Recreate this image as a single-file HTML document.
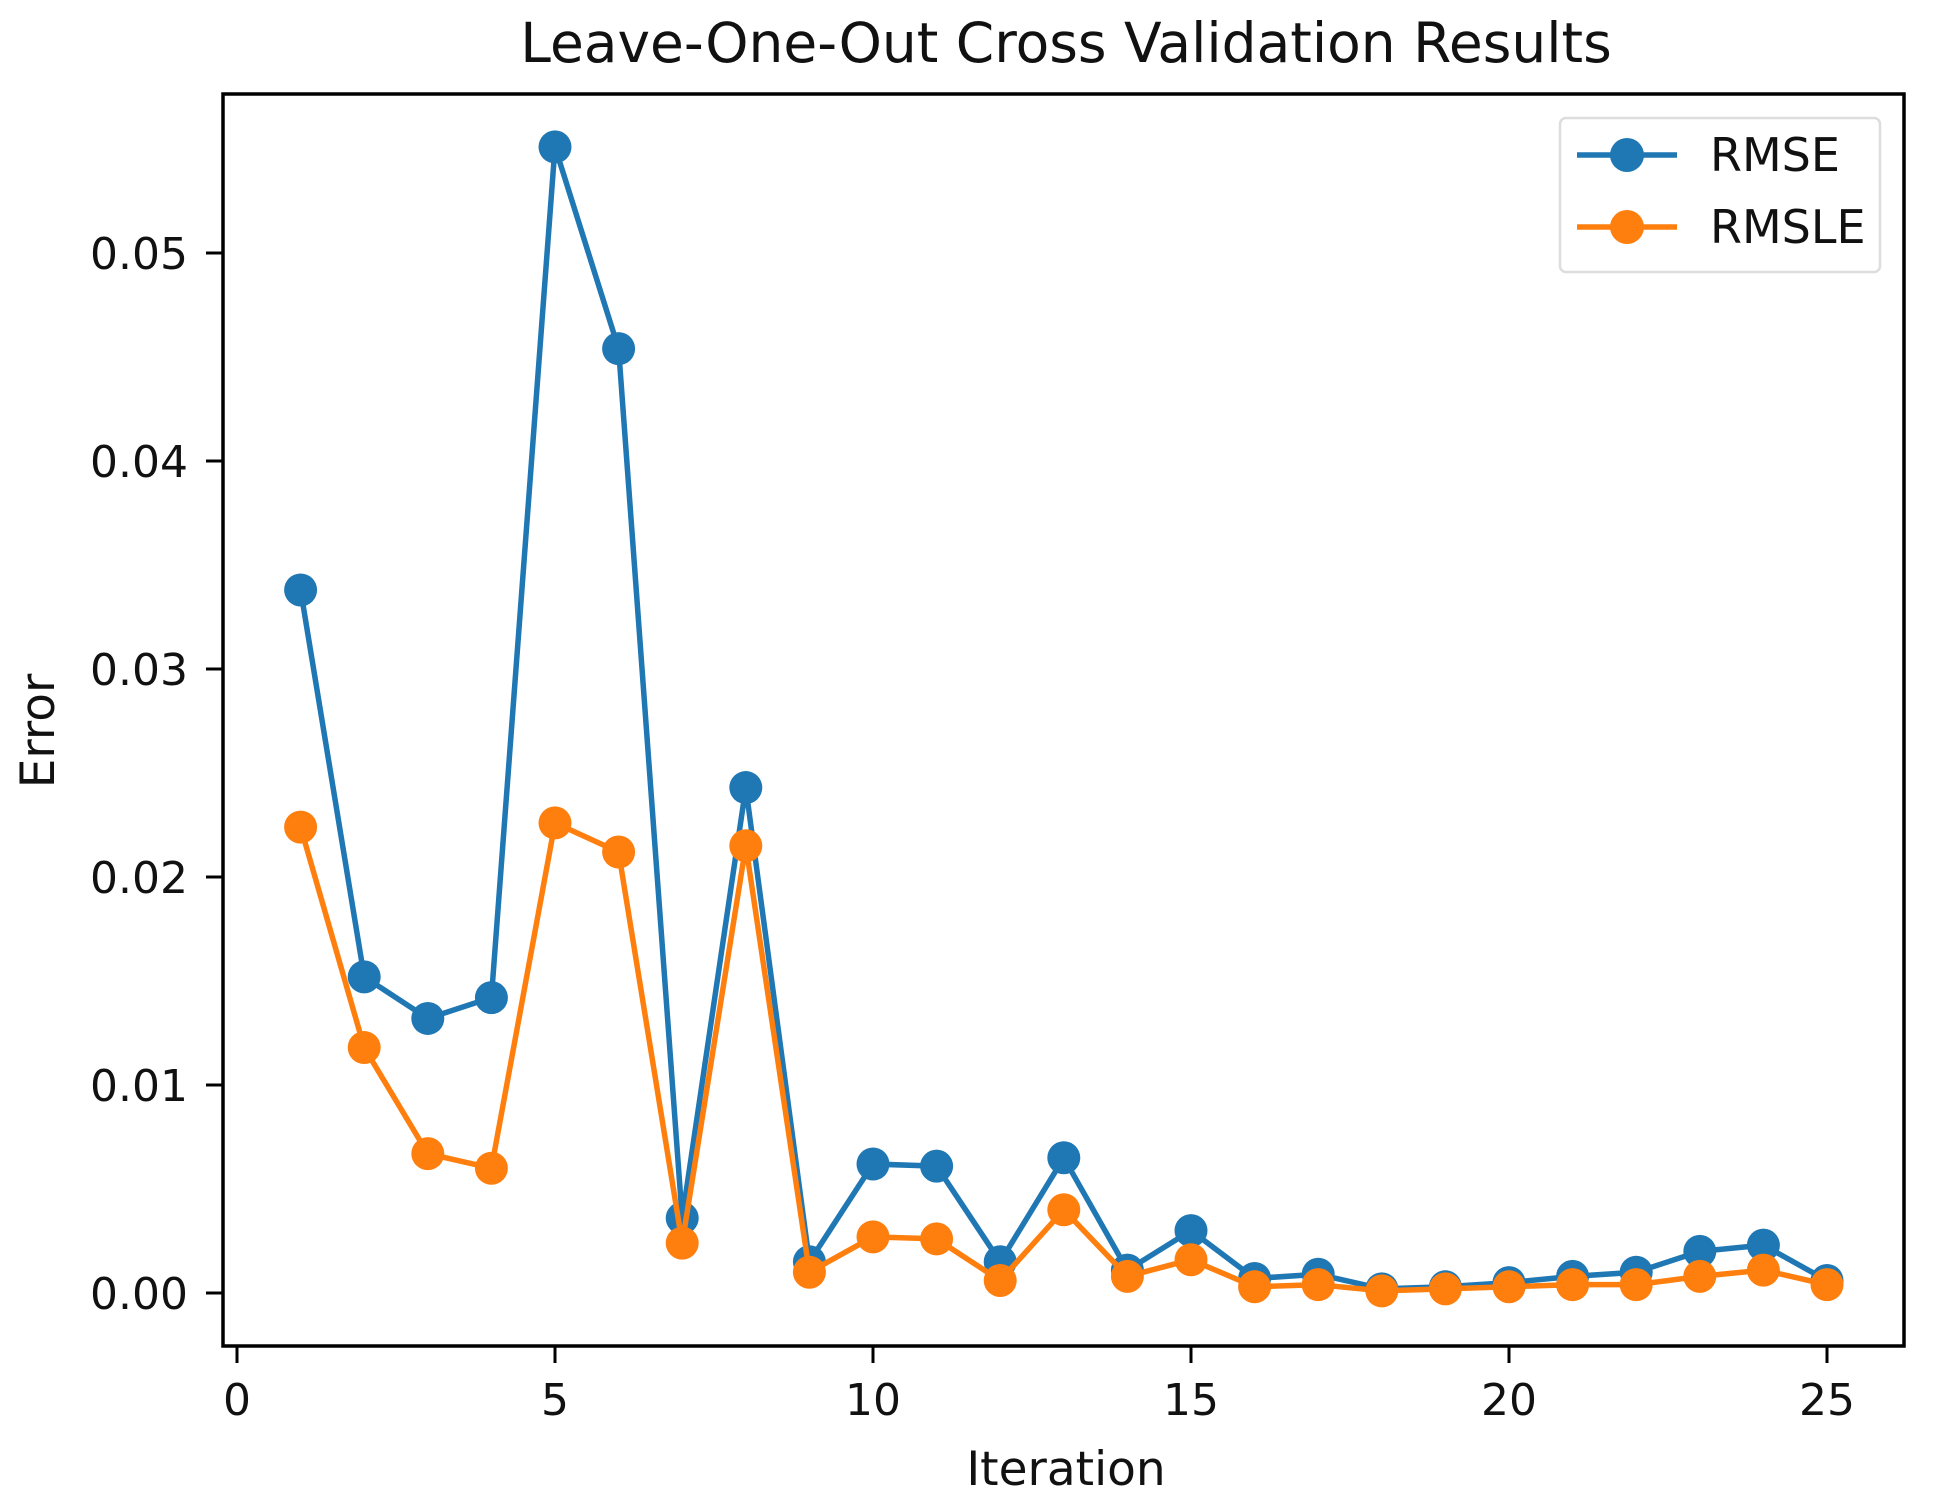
<!DOCTYPE html>
<html><head><meta charset="utf-8"><style>html,body{margin:0;padding:0;background:#fff}svg{display:block}</style></head>
<body>
<svg id="chart" width="1934" height="1501" viewBox="0 0 1934 1501" font-family="'DejaVu Sans','Liberation Sans',sans-serif">
<rect width="1934" height="1501" fill="#fff"/>
<text x="1066" y="62" font-size="55" text-anchor="middle" fill="#111">Leave-One-Out Cross Validation Results</text>
<g id="plot"></g>
<rect x="223" y="94" width="1681" height="1252" fill="none" stroke="#000" stroke-width="3.5"/>
<text x="1066" y="1485" font-size="47" text-anchor="middle" fill="#111">Iteration</text>
<text transform="translate(54,731) rotate(-90)" font-size="47" text-anchor="middle" fill="#111">Error</text>
<g>
<rect x="1560" y="118" width="320" height="154" rx="6" fill="#fff" stroke="#ddd" stroke-width="2.5"/>
<g>
<line x1="1577" y1="155" x2="1677" y2="155" stroke="#1f77b4" stroke-width="5.5"/>
<circle cx="1627" cy="155" r="17" fill="#1f77b4"/>
<text x="1710" y="171" font-size="46" fill="#111">RMSE</text></g>
<g>
<line x1="1577" y1="227" x2="1677" y2="227" stroke="#ff7f0e" stroke-width="5.5"/>
<circle cx="1627" cy="227" r="17" fill="#ff7f0e"/>
<text x="1710" y="243" font-size="46" fill="#111">RMSLE</text></g>
</g>
</svg>
<script>
const iterations = [1,2,3,4,5,6,7,8,9,10,11,12,13,14,15,16,17,18,19,20,21,22,23,24,25];
const rmse = [0.0338,0.0152,0.0132,0.0142,0.0551,0.0454,0.0036,0.0243,0.0015,0.0062,0.0061,0.0015,0.0065,0.0011,0.0030,0.0007,0.0009,0.0002,0.0003,0.0005,0.0008,0.0010,0.0020,0.0023,0.0006];
const rmsle = [0.0224,0.0118,0.0067,0.0060,0.0226,0.0212,0.0024,0.0215,0.0010,0.0027,0.0026,0.0006,0.0040,0.0008,0.0016,0.0003,0.0004,0.0001,0.0002,0.0003,0.0004,0.0004,0.0008,0.0011,0.0004];
const xTicks = [0,5,10,15,20,25];
const yTicks = [0.00,0.01,0.02,0.03,0.04,0.05];
const yTickLabels = ["0.00","0.01","0.02","0.03","0.04","0.05"];

const NS = "http://www.w3.org/2000/svg";
const xs = v => 237 + v * 63.6;
const ys = v => 1293 - v * 20800;
const plot = document.getElementById('plot');
function mk(tag, attrs, parent) {
  const e = document.createElementNS(NS, tag);
  for (const k in attrs) e.setAttribute(k, attrs[k]);
  (parent || plot).appendChild(e);
  return e;
}
xTicks.forEach(t => {
  const g = mk('g', {});
  
  
  mk('line', {x1: xs(t), x2: xs(t), y1: 1346, y2: 1363, stroke: '#000', 'stroke-width': 3}, g);
  const tx = mk('text', {x: xs(t), y: 1415, 'font-size': 44, 'text-anchor': 'middle', fill: '#111'}, g);
  tx.textContent = t;
});
yTicks.forEach((t, i) => {
  const g = mk('g', {});
  
  
  mk('line', {x1: 206, x2: 223, y1: ys(t), y2: ys(t), stroke: '#000', 'stroke-width': 3}, g);
  const tx = mk('text', {x: 188, y: ys(t) + 16, 'font-size': 44, 'text-anchor': 'end', fill: '#111'}, g);
  tx.textContent = yTickLabels[i];
});
function series(vals, color, name) {
  const g = mk('g', {});
  
  
  const pts = vals.map((v, i) => xs(iterations[i]) + ',' + ys(v)).join(' ');
  const pl = mk('polyline', {points: pts, fill: 'none', stroke: color, 'stroke-width': 5.5, 'stroke-linejoin': 'round'}, g);
  
  
  vals.forEach((v, i) => {
    const c = mk('circle', {cx: xs(iterations[i]), cy: ys(v), r: 16.5, fill: color}, g);
    
    
  });
}
series(rmse, '#1f77b4', 'rmse');
series(rmsle, '#ff7f0e', 'rmsle');
</script>
</body></html>
